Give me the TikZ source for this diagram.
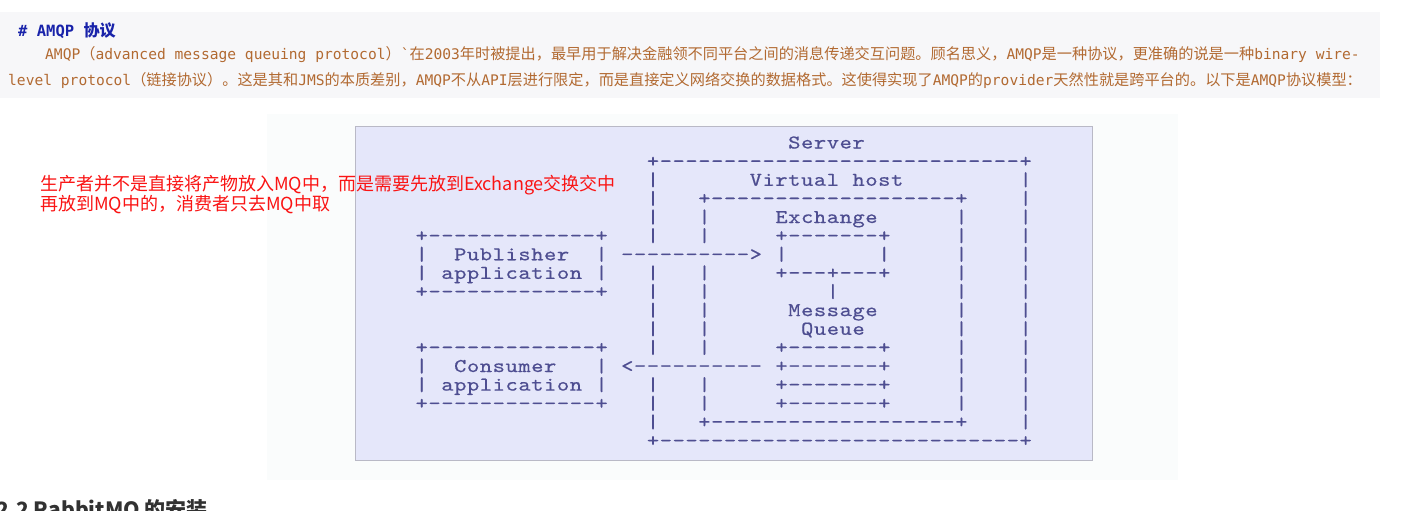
\documentclass[tikz,border=0pt]{standalone}
\usepackage{fontspec}
\newfontfamily\ascfont{lmmono10-regular.otf}[FakeStretch=1.2,FakeBold=0.5]
\newfontfamily\hdrmono{DejaVu Sans Mono}
\newfontfamily\cjkfont{Noto Sans CJK SC}
\newfontfamily\hdrcjk{Noto Sans CJK SC}[Scale=1.04]
\newcommand\zh[1]{{\hdrcjk #1}}
\newlength\asccw
\setlength\asccw{12.85pt}
\ExplSyntaxOn
\NewDocumentCommand\AscT{m}{ \tl_map_inline:nn {#1} { \str_if_eq:nnTF {##1} {.} { \hspace*{\asccw} } { \makebox[\asccw][c]{##1} } } }
\NewDocumentCommand\AscD{m}{ \prg_replicate:nn {#1} { \makebox[\asccw][c]{-} } }
\ExplSyntaxOff
\definecolor{hdrbg}{RGB}{247,247,249}
\definecolor{panelcol}{RGB}{250,252,252}
\definecolor{diagbg}{RGB}{229,231,250}
\definecolor{diagborder}{RGB}{185,185,198}
\definecolor{asccol}{RGB}{78,78,145}
\definecolor{hdrcol}{RGB}{178,106,50}
\definecolor{headcol}{RGB}{25,35,170}
\definecolor{notecol}{RGB}{250,20,20}
\definecolor{subcol}{RGB}{50,50,50}
\begin{document}
\begin{tikzpicture}[x=1pt,y=-1pt,
  asc/.style={anchor=base west, inner sep=0pt, outer sep=0pt, text=asccol, font=\fontsize{19.5pt}{20pt}\ascfont},
  hdr/.style={anchor=base west, inner sep=0pt, text=hdrcol, font=\fontsize{14.6pt}{16pt}\hdrmono},
  head/.style={anchor=base west, inner sep=0pt, text=headcol, font=\fontsize{15.5pt}{17pt}\hdrmono\bfseries},
  note/.style={anchor=base west, inner sep=0pt, text=notecol, font=\fontsize{18pt}{20pt}\cjkfont},
  sub/.style={anchor=base west, inner sep=0pt, text=subcol, font=\fontsize{21pt}{23pt}\cjkfont\bfseries}]
\useasboundingbox (0,0) rectangle (1409,511);
\fill[white] (0,0) rectangle (1409,511);
\fill[panelcol] (267,114) rectangle (1178,480);
\fill[hdrbg] (0,12) rectangle (1380,98);
\filldraw[fill=diagbg, draw=diagborder, line width=1pt] (355,126) rectangle (1092,460);
% header
\node[head] (h0) at (18,37) {\# AMQP \zh{协议}};
\node[hdr] (h1) at (45,59.5) {AMQP\zh{（}advanced message queuing protocol\zh{）}\XeTeXglyph\XeTeXcharglyph"60\zh{在}2003\zh{年时被提出，最早用于解决金融领不同平台之间的消息传递交互问题。顾名思义，}AMQP\zh{是一种协议，更准确的说是一种}binary wire-};
\node[hdr] (h2) at (8,85.5) {level protocol\zh{（链接协议）。这是其和}JMS\zh{的本质差别，}AMQP\zh{不从}API\zh{层进行限定，而是直接定义网络交换的数据格式。这使得实现了}AMQP\zh{的}provider\zh{天然性就是跨平台的。以下是}AMQP\zh{协议模型：}};
% red note
\node[note] (n1) at (40,190) {生产者并不是直接将产物放入MQ中，而是需要先放到Exchange交换交中};
\node[note] (n2) at (40,210) {再放到MQ中的，消费者只去MQ中取};
% ascii diagram
\node[asc] (r0) at ({415.3+12.85*29},{148.5+18.625*0}) {\AscT{Server}};
\node[asc] (r1) at ({415.3+12.85*18},{148.5+18.625*1}) {\AscT{+}\AscD{28}\AscT{+}};
\node[asc] (r2) at ({415.3+12.85*18},{148.5+18.625*2}) {\AscT{|.......Virtual.host.........|}};
\node[asc] (r3) at ({415.3+12.85*18},{148.5+18.625*3}) {\AscT{|...+}\AscD{19}\AscT{+....|}};
\node[asc] (r4) at ({415.3+12.85*18},{148.5+18.625*4}) {\AscT{|...|.....Exchange......|....|}};
\node[asc] (r5) at ({415.3},{148.5+18.625*5}) {\AscT{+}\AscD{13}\AscT{+...|...|.....+}\AscD{7}\AscT{+.....|....|}};
\node[asc] (r6) at ({415.3},{148.5+18.625*6}) {\AscT{|..Publisher..|.}\AscD{10}\AscT{>.|.......|.....|....|}};
\node[asc] (r7) at ({415.3},{148.5+18.625*7}) {\AscT{|.application.|...|...|.....+}\AscD{3}\AscT{+}\AscD{3}\AscT{+.....|....|}};
\node[asc] (r8) at ({415.3},{148.5+18.625*8}) {\AscT{+}\AscD{13}\AscT{+...|...|.........|.........|....|}};
\node[asc] (r9) at ({415.3+12.85*18},{148.5+18.625*9}) {\AscT{|...|......Message......|....|}};
\node[asc] (r10) at ({415.3+12.85*18},{148.5+18.625*10}) {\AscT{|...|.......Queue.......|....|}};
\node[asc] (r11) at ({415.3},{148.5+18.625*11}) {\AscT{+}\AscD{13}\AscT{+...|...|.....+}\AscD{7}\AscT{+.....|....|}};
\node[asc] (r12) at ({415.3},{148.5+18.625*12}) {\AscT{|..Consumer...|.<}\AscD{10}\AscT{.+}\AscD{7}\AscT{+.....|....|}};
\node[asc] (r13) at ({415.3},{148.5+18.625*13}) {\AscT{|.application.|...|...|.....+}\AscD{7}\AscT{+.....|....|}};
\node[asc] (r14) at ({415.3},{148.5+18.625*14}) {\AscT{+}\AscD{13}\AscT{+...|...|.....+}\AscD{7}\AscT{+.....|....|}};
\node[asc] (r15) at ({415.3+12.85*18},{148.5+18.625*15}) {\AscT{|...+}\AscD{19}\AscT{+....|}};
\node[asc] (r16) at ({415.3+12.85*18},{148.5+18.625*16}) {\AscT{+}\AscD{28}\AscT{+}};
% cut-off next heading
\node[sub] (b1) at (-4,517) {2.2 RabbitMQ 的安装};
\end{tikzpicture}
\end{document}
